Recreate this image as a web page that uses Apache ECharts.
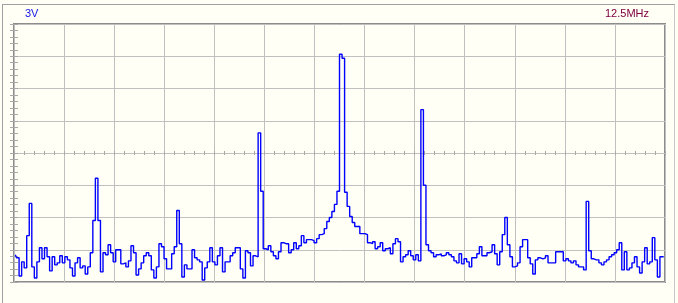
<!DOCTYPE html>
<html>
<head>
<meta charset="utf-8">
<script src="https://cdn.jsdelivr.net/npm/echarts@6/dist/echarts.min.js"></script>
<style>
  html, body { margin: 0; padding: 0; background: #fffff5; overflow: hidden; }
  #wrap { position: relative; width: 678px; height: 303px; }
  #chart { position: absolute; left: 0; top: 0; width: 678px; height: 303px; }
  #frame { position: absolute; left: 2px; top: 4px; width: 671px; height: 320px;
           border-top: 1px solid #a0a0a0; border-left: 1px solid #a0a0a0; border-right: 1px solid #c8c8c8;
           pointer-events: none; }
</style>
</head>
<body>
<div id="wrap">
  <div id="chart"></div>
  <div id="frame"></div>
</div>
<script>
// Spectrum trace: 256 frequency bins, amplitude in ADC units (0..256 = 8 vertical divisions)
const voltLabel = '3V';
const spanLabel = '12.5MHz';
const yMax = 256;
const yDivision = 32;
const xDivisions = 13;
const amplitude = [
  27, 24, 6, 20, 14, 46, 78, 15, 4, 20,
  34, 23, 34, 25, 11, 25, 17, 19, 26, 19,
  25, 22, 14, 6, 19, 24, 14, 16, 8, 15,
  29, 61, 103, 61, 10, 29, 27, 37, 29, 20,
  32, 32, 18, 19, 15, 21, 36, 29, 7, 13,
  19, 26, 29, 26, 12, 4, 15, 38, 35, 23,
  13, 13, 28, 35, 71, 38, 5, 17, 13, 13,
  32, 24, 22, 20, 2, 14, 20, 34, 20, 17,
  26, 34, 10, 20, 20, 26, 29, 34, 34, 13,
  4, 31, 29, 16, 26, 25, 148, 90, 33, 32,
  36, 30, 26, 23, 30, 39, 38, 38, 29, 32,
  39, 33, 36, 46, 39, 42, 42, 41, 39, 43,
  47, 48, 53, 60, 64, 70, 77, 90, 226, 222,
  89, 75, 65, 59, 55, 55, 48, 48, 47, 39,
  38, 40, 33, 35, 39, 31, 33, 34, 28, 38,
  43, 40, 20, 25, 27, 31, 26, 22, 27, 21,
  171, 96, 37, 31, 29, 25, 27, 28, 26, 27,
  29, 27, 25, 21, 19, 28, 18, 23, 20, 15,
  24, 24, 28, 35, 26, 26, 29, 30, 37, 28,
  17, 30, 47, 64, 37, 25, 15, 16, 19, 35,
  42, 42, 24, 18, 8, 22, 24, 23, 24, 26,
  19, 19, 19, 30, 30, 30, 21, 23, 21, 19,
  21, 17, 15, 15, 12, 80, 31, 23, 22, 22,
  19, 17, 20, 22, 25, 27, 29, 32, 39, 12,
  30, 12, 14, 19, 25, 15, 9, 20, 34, 18,
  20, 44, 22, 5, 25, 25
];
const bins = amplitude.map((_, i) => i);

const chart = echarts.init(document.getElementById('chart'), null, { renderer: 'canvas' });
const tickColor = '#a8a8a8';
const gridColor = '#c0c0c0';
const font = '"Liberation Sans", Arial, sans-serif';

chart.setOption({
  animation: false,
  backgroundColor: '#fffff5',
  title: [
    { text: voltLabel, left: 25, top: 8, padding: 0,
      textStyle: { color: '#1414e6', fontSize: 11, fontWeight: 'normal', fontFamily: font } },
    { text: spanLabel, right: 29, top: 8, padding: 0,
      textStyle: { color: '#800040', fontSize: 11, fontWeight: 'normal', fontFamily: font } }
  ],
  grid: {
    left: 14, top: 24, right: 13, bottom: 21,
    show: true, borderColor: '#8c8c8c', borderWidth: 2, backgroundColor: 'transparent'
  },
  xAxis: [
    { // division grid
      type: 'value', min: 0, max: xDivisions, interval: 1, position: 'bottom',
      axisLine: { show: false }, axisTick: { show: false }, axisLabel: { show: false },
      splitLine: { show: true, lineStyle: { color: gridColor, width: 1 } }
    },
    { // data bins
      type: 'category', data: bins, boundaryGap: true, show: false
    },
    { // minor ticks along the center line
      type: 'value', min: 0, max: xDivisions, interval: 1, position: 'bottom', offset: -127,
      axisLine: { show: false }, axisLabel: { show: false },
      axisTick: { show: true, inside: true, length: 4, lineStyle: { color: tickColor } },
      minorTick: { show: true, splitNumber: 5, length: 4, lineStyle: { color: tickColor } },
      splitLine: { show: false }
    }
  ],
  yAxis: [
    {
      type: 'value', min: 0, max: yMax, interval: yDivision, position: 'left',
      axisLine: { show: false }, axisLabel: { show: false },
      axisTick: { show: true, inside: true, length: 4, lineStyle: { color: tickColor } },
      minorTick: { show: true, splitNumber: 5, length: 4, lineStyle: { color: tickColor } },
      splitLine: { show: true, lineStyle: { color: gridColor, width: 1 } }
    },
    {
      type: 'value', min: 0, max: yMax, interval: yDivision, position: 'right',
      axisLine: { show: false }, axisLabel: { show: false },
      axisTick: { show: true, inside: true, length: 4, lineStyle: { color: tickColor } },
      minorTick: { show: true, splitNumber: 5, length: 4, lineStyle: { color: tickColor } },
      splitLine: { show: false }
    }
  ],
  series: [{
    type: 'line',
    xAxisIndex: 1,
    yAxisIndex: 0,
    data: amplitude,
    step: 'middle',
    symbol: 'none',
    lineStyle: { color: '#0000ff', width: 1.4 },
    z: 5
  }]
});
</script>
</body>
</html>
